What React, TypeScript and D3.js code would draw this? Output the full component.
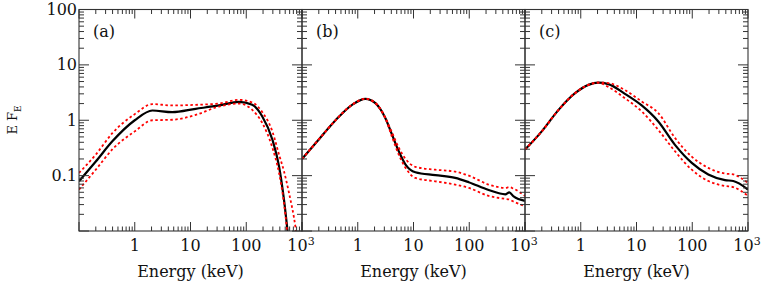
import * as d3 from 'd3';

// spectra: energy grid (keV) and E F_E for best fit / upper / lower
const energyA = [0.1, 0.2, 0.4, 1, 2.07, 4.7, 12.4, 32.4, 74, 128, 194, 294, 387, 475, 584, 770, 1000];
const bestA = [0.079, 0.18, 0.42, 1.0, 1.5, 1.4, 1.61, 1.85, 2.15, 1.9, 1.17, 0.45, 0.148, 0.037, 0.006, 0.0008, 0.0001];
const upperA = [0.112, 0.24, 0.59, 1.29, 1.96, 1.85, 1.9, 2.0, 2.34, 2.1, 1.4, 0.63, 0.24, 0.12, 0.049, 0.011, 0.001];
const lowerA = [0.056, 0.128, 0.3, 0.63, 1.0, 1.02, 1.25, 1.77, 2.0, 1.54, 0.89, 0.32, 0.112, 0.032, 0.005, 0.0005, 0.0001];

const energyB = [0.1, 0.2, 0.4, 0.79, 1.37, 2.07, 3.12, 4.12, 5.44, 7.2, 10.8, 24.6, 56, 98, 223, 443, 523, 624, 1000];
const bestB = [0.2, 0.45, 1.0, 1.9, 2.44, 2.04, 1.1, 0.55, 0.275, 0.158, 0.115, 0.102, 0.091, 0.076, 0.055, 0.046, 0.05, 0.042, 0.035];
const upperB = [0.2, 0.45, 1.0, 1.9, 2.44, 2.04, 1.1, 0.6, 0.32, 0.2, 0.144, 0.128, 0.118, 0.1, 0.069, 0.06, 0.062, 0.058, 0.043];
const lowerB = [0.2, 0.45, 1.0, 1.9, 2.44, 2.04, 1.1, 0.5, 0.24, 0.138, 0.091, 0.079, 0.069, 0.06, 0.043, 0.038, 0.037, 0.034, 0.028];

const energyC = [0.1, 0.2, 0.4, 0.79, 1.37, 2.07, 3.12, 6.2, 12.4, 24.6, 49, 98, 194, 387, 544, 1000];
const bestC = [0.295, 0.63, 1.54, 3.08, 4.35, 4.78, 4.5, 3.0, 1.85, 0.95, 0.36, 0.17, 0.105, 0.083, 0.08, 0.056];
const upperC = [0.295, 0.63, 1.54, 3.08, 4.35, 4.78, 4.7, 3.5, 2.18, 1.35, 0.48, 0.22, 0.138, 0.109, 0.105, 0.074];
const lowerC = [0.295, 0.63, 1.54, 3.08, 4.35, 4.78, 4.0, 2.5, 1.44, 0.67, 0.275, 0.128, 0.08, 0.065, 0.062, 0.043];

const panelNames = ['(a)', '(b)', '(c)'];
const xTickLabels = ['1', '10', '100'];
const yTickLabels = ['0.1', '1', '10', '100'];

const panels = [
  { name: panelNames[0], energy: energyA, best: bestA, upper: upperA, lower: lowerA },
  { name: panelNames[1], energy: energyB, best: bestB, upper: upperB, lower: lowerB },
  { name: panelNames[2], energy: energyC, best: bestC, upper: upperC, lower: lowerC },
];

const W = 763, H = 286;
const left0 = 79, panelW = 223, top = 9.5, bottom = 231;
const font = 'DejaVu Serif, serif';
const axisColor = '#333';

function isMajor(v: number) {
  const l = Math.log10(v);
  return Math.abs(l - Math.round(l)) < 1e-6;
}

function Panel({ p, i }: { p: typeof panels[0]; i: number }) {
  const x0 = left0 + i * panelW;
  const x1 = x0 + panelW;
  const x = d3.scaleLog().domain([0.1, 1000]).range([x0, x1]);
  const y = d3.scaleLog().domain([0.01, 100]).range([bottom, top]);
  const line = d3.line<number>()
    .x((_, k) => x(p.energy[k]))
    .curve(d3.curveMonotoneX);
  const path = (vals: number[]) => line.y((v) => y(v))(vals) || '';
  const xt = x.ticks();
  const yt = y.ticks();
  const clipId = 'clip' + i;

  return (
    <g>
      <defs>
        <clipPath id={clipId}>
          <rect x={x0} y={top} width={panelW} height={bottom - top} />
        </clipPath>
      </defs>
      <g clipPath={`url(#${clipId})`}>
        <path d={path(p.best)} fill="none" stroke="#000" strokeWidth={2.2} />
        <path d={path(p.upper)} fill="none" stroke="#ff0000" strokeWidth={1.8} strokeDasharray="2.5 2.5" />
        <path d={path(p.lower)} fill="none" stroke="#ff0000" strokeWidth={1.8} strokeDasharray="2.5 2.5" />
      </g>
      <rect x={x0} y={top} width={panelW} height={bottom - top} fill="none" stroke={axisColor} strokeWidth={1.1} />
      {xt.map((t, k) => {
        const len = isMajor(t) ? 9 : 4.5;
        const px = x(t);
        return (
          <g key={'x' + k} stroke={axisColor} strokeWidth={1}>
            <line x1={px} x2={px} y1={bottom} y2={bottom - len} />
            <line x1={px} x2={px} y1={top} y2={top + len} />
          </g>
        );
      })}
      {yt.map((t, k) => {
        const len = isMajor(t) ? 10 : 5;
        const py = y(t);
        return (
          <g key={'y' + k} stroke={axisColor} strokeWidth={1}>
            <line x1={x0} x2={x0 + len} y1={py} y2={py} />
            <line x1={x1} x2={x1 - len} y1={py} y2={py} />
          </g>
        );
      })}
      {xTickLabels.map((lab) => (
        <text key={lab} x={x(+lab)} y={251} textAnchor="middle" fontSize={16} fontFamily={font} fill="#111">
          {lab}
        </text>
      ))}
      <text x={x(1000) - 1} y={251} textAnchor="middle" fontSize={16} fontFamily={font} fill="#111">
        10<tspan fontSize={11} dy={-6}>3</tspan>
      </text>
      <text x={(x0 + x1) / 2} y={277} textAnchor="middle" fontSize={16} fontFamily={font} fill="#111">
        Energy (keV)
      </text>
      <text x={x0 + 14} y={37} fontSize={16} fontFamily={font} fill="#111">
        {p.name}
      </text>
      {i === 0 &&
        yTickLabels.map((lab) => (
          <text key={lab} x={x0 - 2} y={y(+lab) + 5.5} textAnchor="end" fontSize={16} fontFamily={font} fill="#111">
            {lab}
          </text>
        ))}
    </g>
  );
}

export default function App() {
  return (
    <svg width={W} height={H} style={{ position: 'absolute', left: 0, top: 0, background: '#fff' }}>
      {panels.map((p, i) => (
        <Panel key={i} p={p} i={i} />
      ))}
      <text
        transform="translate(17,120) rotate(-90)"
        textAnchor="middle"
        fontSize={13}
        fontFamily={font}
        fill="#111"
      >
        E F<tspan fontSize={9} dy={4}>E</tspan>
      </text>
    </svg>
  );
}
